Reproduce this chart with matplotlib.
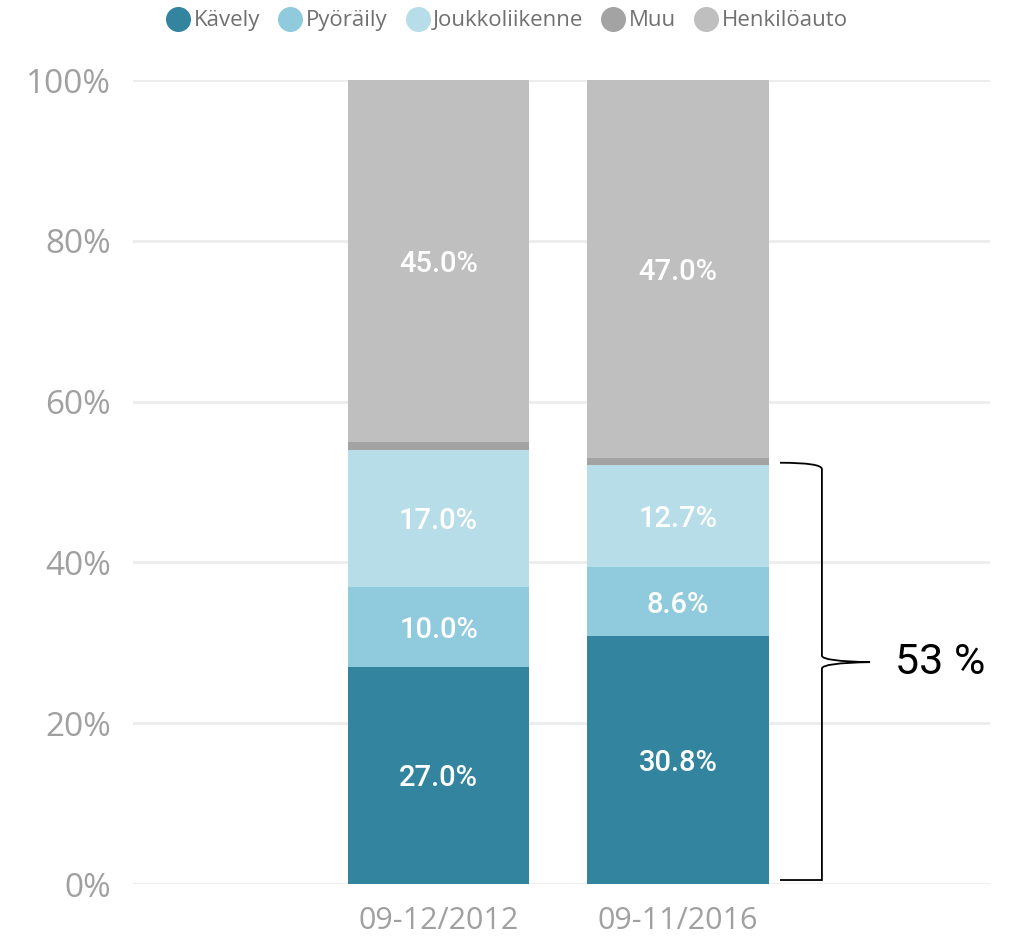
import matplotlib.pyplot as plt
from matplotlib.path import Path
from matplotlib.patches import PathPatch
from matplotlib.lines import Line2D

# data
periods = ['09-12/2012', '09-11/2016']
modes = ['Kävely', 'Pyöräily', 'Joukkoliikenne', 'Muu', 'Henkilöauto']
kavely = [27.0, 30.8]
pyoraily = [10.0, 8.6]
joukko = [17.0, 12.7]
muu = [1.0, 0.9]
henkiloauto = [45.0, 47.0]
colors = ['#33849e', '#8fcbdd', '#b6dde8', '#a3a3a3', '#bfbfbf']
y_ticks = [0, 20, 40, 60, 80, 100]

series = [kavely, pyoraily, joukko, muu, henkiloauto]
show_label = [True, True, True, False, True]

fig = plt.figure(figsize=(10.09, 9.46), dpi=100)
ax = fig.add_axes([0.1318, 0.0655, 0.8494, 0.8499])

x = [0, 1]
bottom = [0.0, 0.0]
for vals, col, lab in zip(series, colors, show_label):
    ax.bar(x, vals, width=0.756, bottom=bottom, color=col, zorder=3)
    if lab:
        for xi, v, b in zip(x, vals, bottom):
            ax.text(xi, b + v / 2, f'{v:.1f}%', ha='center', va='center_baseline',
                    color='white', fontsize=21, fontweight='medium',
                    family='Roboto', zorder=4)
    bottom = [b + v for b, v in zip(bottom, vals)]

ax.set_xlim(-1.276, 2.303)
ax.set_ylim(0, 100)
ax.set_yticks(y_ticks)
ax.set_yticklabels([f'{t}%' for t in y_ticks])
ax.set_xticks(x)
ax.set_xticklabels(periods)
ax.tick_params(length=0, labelcolor='#a0a0a0', labelsize=24)
ax.tick_params(axis='y', pad=16)
ax.tick_params(axis='x', labelsize=22, pad=16)
for t in ax.get_xticklabels() + ax.get_yticklabels():
    t.set_family('Open Sans')
ax.grid(axis='y', color='#ececec', linewidth=2, zorder=0)
for s in ax.spines.values():
    s.set_visible(False)

# curly brace for the sustainable modes share
x0, x1, xt = 1.426, 1.601, 1.802
top, bot, mid = 52.4, 0.5, 27.6
verts = [(x0, top), (x1, top), (x1, top - 0.8), (x1, top - 1.2),
         (x1, mid + 0.8), (x1, mid + 0.1), (xt, mid), (xt, mid),
         (xt, mid), (x1, mid - 0.1), (x1, mid - 0.8),
         (x1, bot + 1.2), (x1, bot + 0.4), (x1, bot), (x0, bot)]
codes = [Path.MOVETO, Path.CURVE3, Path.CURVE3, Path.LINETO,
         Path.LINETO, Path.CURVE3, Path.CURVE3, Path.LINETO,
         Path.MOVETO, Path.CURVE3, Path.CURVE3,
         Path.LINETO, Path.CURVE3, Path.CURVE3, Path.LINETO]
ax.add_patch(PathPatch(Path(verts, codes), fill=False, edgecolor='black',
                       linewidth=1.3, zorder=5, clip_on=False))
ax.text(1.906, mid, '53 %', ha='left', va='center', fontsize=31,
        family='Roboto', color='black')

handles = [Line2D([], [], marker='o', linestyle='none', markersize=17,
                  markerfacecolor=c, markeredgecolor=c) for c in colors]
fig.legend(handles, modes, loc='center left', bbox_to_anchor=(0.135, 0.978),
           ncol=5, frameon=False, handletextpad=-0.3,
           columnspacing=0.35, labelcolor='#707070',
           prop={'family': 'Open Sans', 'size': 16})

fig.savefig('out.png', dpi=100)
